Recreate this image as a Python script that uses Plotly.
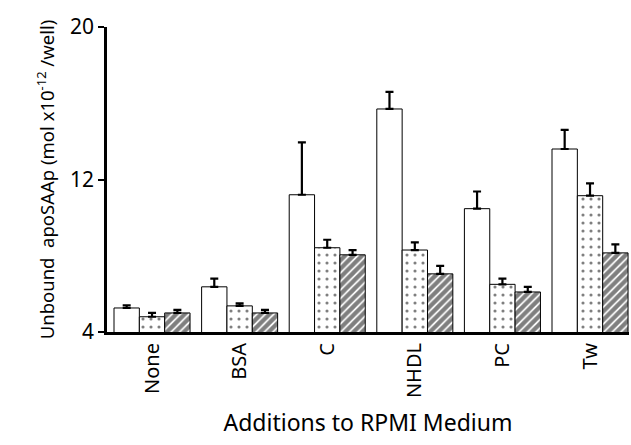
import plotly.graph_objects as go

categories = ["None", "BSA", "C", "NHDL", "PC", "Tw"]
white_vals = [5.26, 6.37, 11.2, 15.7, 10.47, 13.6]
white_err_top = [5.4, 6.8, 13.95, 16.6, 11.37, 14.6]
dot_vals = [4.8, 5.37, 8.42, 8.3, 6.5, 11.15]
dot_err_top = [5.0, 5.5, 8.84, 8.7, 6.8, 11.8]
hatch_vals = [5.0, 5.0, 8.05, 7.05, 6.1, 8.15]
hatch_err_top = [5.16, 5.16, 8.3, 7.47, 6.37, 8.6]
y_ticks = [4, 12, 20]

FONT = "Noto Sans"

def err(vals, tops):
    return dict(type="data", symmetric=False,
                array=[t - v for v, t in zip(vals, tops)],
                arrayminus=[0] * len(vals),
                color="black", thickness=2.2, width=4)

fig = go.Figure()
fig.add_trace(go.Bar(x=categories, y=white_vals,
                     marker=dict(color="white", line=dict(color="black", width=1)),
                     error_y=err(white_vals, white_err_top), showlegend=False))
fig.add_trace(go.Bar(x=categories, y=dot_vals,
                     marker=dict(color="white", line=dict(color="black", width=1),
                                 pattern=dict(shape=".", fgcolor="black", bgcolor="white",
                                              size=8, solidity=0.12)),
                     error_y=err(dot_vals, dot_err_top), showlegend=False))
fig.add_trace(go.Bar(x=categories, y=hatch_vals,
                     marker=dict(color="white", line=dict(color="black", width=1),
                                 pattern=dict(shape="/", fgcolor="black", bgcolor="white",
                                              size=6, solidity=0.7)),
                     error_y=err(hatch_vals, hatch_err_top), showlegend=False))

fig.update_layout(
    width=631, height=445,
    margin=dict(l=107, r=2, t=27, b=113),
    paper_bgcolor="white", plot_bgcolor="white",
    barmode="group", bargap=0.132, bargroupgap=0,
    font=dict(family=FONT, color="black"),
    xaxis=dict(
        range=[-0.514, 5.445], automargin=False,
        tickangle=-90, tickfont=dict(size=20, family=FONT),
        showline=True, linecolor="black", linewidth=3,
        ticks="", showgrid=False, zeroline=False,
        title=dict(text="Additions to RPMI Medium", font=dict(size=23, family=FONT), standoff=18),
    ),
    yaxis=dict(
        range=[4, 20], tickvals=y_ticks, ticktext=[str(v) for v in y_ticks],
        automargin=False,
        tickfont=dict(size=21, family=FONT),
        showline=True, linecolor="black", linewidth=2.5,
        ticks="outside", ticklen=6, tickwidth=2, tickcolor="black",
        showgrid=False, zeroline=False,
        title=dict(text="Unbound  apoSAAp (mol x10<sup>-12</sup> /well)",
                   font=dict(size=18.5, family=FONT), standoff=11),
    ),
)

fig.write_html(
    "out.html",
    config={"displayModeBar": False},
    post_script="document.body.style.margin='0';document.body.style.overflow='hidden';",
)
